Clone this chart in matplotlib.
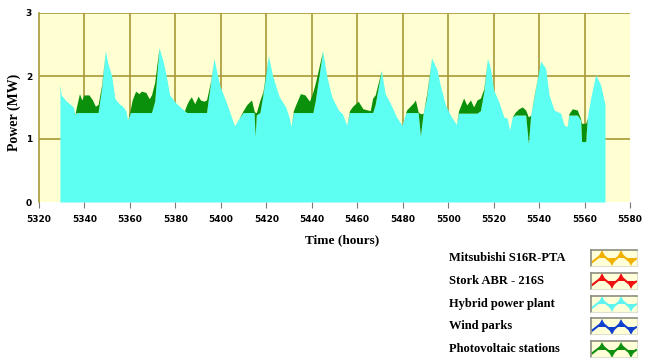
import matplotlib
matplotlib.use("Agg")
import matplotlib.pyplot as plt
import numpy as np

# time axis (hours) and the two stacked series (MW)
hours = [5329.2, 5329.8, 5330.5, 5332.0, 5334.2, 5335.2, 5335.8, 5336.4, 5337.8, 5338.8,
         5339.8, 5342.0, 5343.5, 5344.8, 5346.0, 5347.5, 5349.2, 5350.3, 5352.0, 5353.3,
         5355.0, 5357.0, 5358.2, 5359.0, 5360.2, 5361.0, 5362.5, 5364.0, 5365.0, 5367.0,
         5368.5, 5369.5, 5370.9, 5372.8, 5374.5, 5376.0, 5377.5, 5380.0, 5382.7, 5384.0,
         5385.0, 5386.0, 5387.0, 5388.5, 5390.0, 5391.0, 5392.5, 5393.7, 5395.5, 5397.0,
         5398.0, 5399.6, 5402.0, 5404.0, 5406.0, 5408.0, 5409.8, 5411.5, 5413.5, 5414.6,
         5415.1, 5415.6, 5417.2, 5418.5, 5420.9, 5422.8, 5425.7, 5428.5, 5430.0, 5430.9,
         5431.9, 5433.0, 5435.0, 5437.0, 5439.0, 5440.5, 5441.5, 5444.8, 5446.6, 5448.8,
         5451.7, 5453.5, 5455.4, 5456.6, 5458.0, 5460.4, 5462.5, 5465.7, 5466.8, 5467.9,
         5470.6, 5472.3, 5474.5, 5477.3, 5479.7, 5481.2, 5481.7, 5484.6, 5485.6, 5486.8,
         5487.8, 5489.0, 5490.5, 5492.7, 5495.1, 5496.5, 5498.8, 5501.0, 5503.6, 5504.6,
         5506.8, 5508.2, 5509.8, 5511.2, 5512.7, 5514.2, 5515.7, 5517.3, 5518.6, 5520.0,
         5522.3, 5524.5, 5526.0, 5527.0, 5528.2, 5529.6, 5531.1, 5532.6, 5534.1, 5535.3,
         5536.3, 5537.7, 5540.7, 5542.9, 5544.4, 5546.6, 5549.5, 5551.0, 5552.4, 5553.1,
         5554.6, 5556.8, 5558.3, 5558.7, 5560.5, 5561.2, 5562.7, 5564.9, 5567.1, 5569.0]

hybrid = [1.87, 1.70, 1.67, 1.60, 1.54, 1.50, 1.38, 1.42, 1.42, 1.42,
          1.42, 1.42, 1.42, 1.42, 1.42, 1.80, 2.40, 2.20, 2.00, 1.65,
          1.57, 1.51, 1.45, 1.30, 1.42, 1.42, 1.42, 1.42, 1.42, 1.42,
          1.42, 1.42, 1.60, 2.45, 2.25, 2.00, 1.70, 1.58, 1.49, 1.45,
          1.42, 1.42, 1.42, 1.42, 1.42, 1.42, 1.42, 1.42, 1.90, 2.28,
          2.10, 1.84, 1.62, 1.42, 1.21, 1.33, 1.42, 1.42, 1.42, 1.42,
          1.04, 1.38, 1.42, 1.70, 2.32, 2.00, 1.67, 1.51, 1.35, 1.20,
          1.42, 1.42, 1.42, 1.42, 1.42, 1.42, 1.60, 2.40, 2.00, 1.67,
          1.46, 1.40, 1.22, 1.42, 1.42, 1.42, 1.42, 1.42, 1.42, 1.55,
          2.09, 1.72, 1.57, 1.35, 1.22, 1.40, 1.42, 1.42, 1.42, 1.42,
          1.05, 1.41, 1.65, 2.29, 2.10, 1.86, 1.54, 1.38, 1.23, 1.41,
          1.41, 1.41, 1.41, 1.41, 1.41, 1.45, 1.75, 2.28, 2.12, 1.78,
          1.59, 1.35, 1.33, 1.14, 1.35, 1.38, 1.38, 1.38, 1.38, 0.93,
          1.38, 1.65, 2.24, 2.12, 1.70, 1.46, 1.41, 1.22, 1.20, 1.38,
          1.38, 1.38, 1.30, 0.96, 0.96, 1.33, 1.65, 2.02, 1.86, 1.54]

# hybrid + photovoltaic
total = [1.87, 1.70, 1.67, 1.60, 1.54, 1.50, 1.38, 1.50, 1.72, 1.62,
         1.70, 1.70, 1.62, 1.52, 1.55, 1.85, 2.40, 2.20, 2.00, 1.65,
         1.57, 1.51, 1.45, 1.30, 1.48, 1.62, 1.76, 1.72, 1.76, 1.74,
         1.64, 1.70, 1.90, 2.45, 2.25, 2.00, 1.70, 1.58, 1.49, 1.45,
         1.55, 1.62, 1.67, 1.56, 1.68, 1.62, 1.60, 1.62, 1.92, 2.28,
         2.10, 1.84, 1.62, 1.42, 1.21, 1.33, 1.45, 1.55, 1.62, 1.45,
         1.42, 1.42, 1.62, 1.75, 2.32, 2.00, 1.67, 1.51, 1.35, 1.20,
         1.45, 1.55, 1.72, 1.70, 1.60, 1.75, 1.88, 2.40, 2.00, 1.67,
         1.46, 1.40, 1.22, 1.45, 1.52, 1.60, 1.48, 1.45, 1.65, 1.70,
         2.09, 1.72, 1.57, 1.35, 1.22, 1.40, 1.46, 1.57, 1.62, 1.43,
         1.40, 1.41, 1.70, 2.29, 2.10, 1.86, 1.54, 1.38, 1.23, 1.45,
         1.65, 1.54, 1.62, 1.51, 1.62, 1.65, 1.80, 2.28, 2.12, 1.78,
         1.59, 1.35, 1.33, 1.14, 1.35, 1.43, 1.48, 1.51, 1.46, 1.35,
         1.38, 1.67, 2.24, 2.12, 1.70, 1.46, 1.41, 1.22, 1.20, 1.40,
         1.48, 1.46, 1.32, 1.25, 1.25, 1.33, 1.65, 2.02, 1.86, 1.54]

xticks = list(range(5320, 5581, 20))
yticks = [0, 1, 2, 3]

legend_labels = ["Mitsubishi S16R-PTA", "Stork ABR - 216S", "Hybrid power plant",
                 "Wind parks", "Photovoltaic stations"]
legend_colors = ["#F2B000", "#F01010", "#60F4F0", "#1040D0", "#109010"]

bg = "#FFFFD2"
grid_col = "#A89A38"
cyan = "#5CFFF2"
green = "#0A900A"

fig = plt.figure(figsize=(6.5, 3.61), dpi=100)
ax = fig.add_axes([39 / 650, 1 - 202 / 361, 591 / 650, 189 / 361])
ax.set_facecolor(bg)

ax.fill_between(hours, 0, hybrid, color=cyan, lw=0, zorder=3)
ax.fill_between(hours, hybrid, total, color=green, lw=0, zorder=3)

ax.set_xlim(5320, 5580)
ax.set_ylim(0, 3)
for x in xticks[1:-1]:
    ax.axvline(x, color=grid_col, lw=1.2, zorder=1)
for y in yticks[1:]:
    ax.axhline(y, color=grid_col, lw=1.2, zorder=1)

for s in ["top", "right", "bottom"]:
    ax.spines[s].set_visible(False)
ax.spines["left"].set_color(grid_col)
ax.spines["left"].set_linewidth(1.2)

ax.set_xticks(xticks)
ax.set_yticks(yticks)
ax.tick_params(axis="x", length=4, width=0.8, color="#777777", pad=5)
ax.tick_params(axis="y", length=0, pad=5)
for lab in ax.get_xticklabels() + ax.get_yticklabels():
    lab.set_fontfamily("DejaVu Sans")
    lab.set_fontweight("bold")
    lab.set_fontsize(6.5)

fig.text(14 / 650, 1 - 112 / 361, "Power (MW)", fontfamily="Liberation Serif",
         fontweight="bold", fontsize=10, rotation=90, ha="center", va="center")
fig.text(342 / 650, 1 - 240 / 361, "Time (hours)", fontfamily="Liberation Serif",
         fontweight="bold", fontsize=9.5, ha="center", va="center")

# legend: text plus small zigzag icon boxes
for i, (lab, col) in enumerate(zip(legend_labels, legend_colors)):
    yc = 258 + i * 22.8
    fig.text(449 / 650, 1 - yc / 361, lab, fontfamily="Liberation Serif",
             fontweight="bold", fontsize=9, ha="left", va="center")
    bax = fig.add_axes([591 / 650, 1 - (yc + 8) / 361, 46 / 650, 16 / 361])
    bax.set_facecolor("#FFFFD8")
    bax.set_xlim(0, 1)
    bax.set_ylim(0, 1)
    bax.set_xticks([])
    bax.set_yticks([])
    for s in ["left", "top"]:
        bax.spines[s].set_color("#8C8C80")
        bax.spines[s].set_linewidth(1.2)
    for s in ["right", "bottom"]:
        bax.spines[s].set_color("#E0E0D0")
    zx = [0.03, 0.24, 0.45, 0.66, 0.87, 0.98]
    zy = [0.25, 0.72, 0.22, 0.72, 0.22, 0.45]
    bax.plot(zx, zy, color=col, lw=1.5)
    bax.plot(zx[1:5:2], zy[1:5:2], "^", color=col, ms=6, mew=0)
    bax.plot(zx[2:5:2], zy[2:5:2], "v", color=col, ms=6, mew=0)

fig.savefig("out.png", dpi=100)
